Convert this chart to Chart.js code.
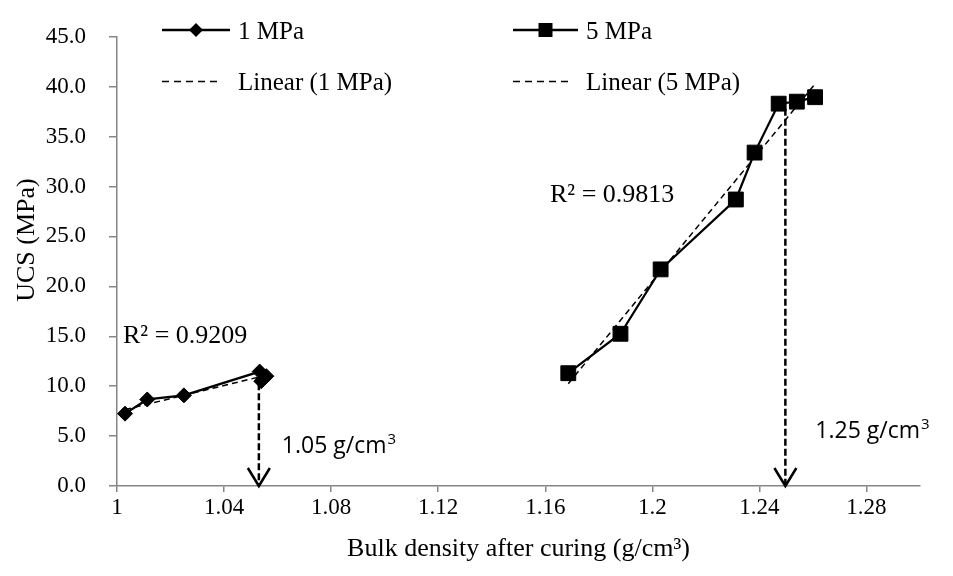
<!DOCTYPE html>
<html>
<head>
<meta charset="utf-8">
<script src="https://cdn.jsdelivr.net/npm/chart.js@4/dist/chart.umd.min.js"></script>
<style>
  html, body { margin: 0; padding: 0; background: #fff; }
</style>
</head>
<body>
<canvas id="ucs-chart" width="953" height="576"></canvas>
<script>
// 1 MPa series
const density1 = [1.003, 1.0113, 1.025, 1.0533, 1.0558, 1.0539];
const ucs1 = [7.25, 8.67, 9.08, 11.46, 11.0, 10.5];
// 5 MPa series
const density5 = [1.1686, 1.1881, 1.2031, 1.2312, 1.2382, 1.2472, 1.254, 1.2608];
const ucs5 = [11.3, 15.25, 21.7, 28.7, 33.4, 38.3, 38.5, 38.95];
// linear trendlines (end points)
const trend1X = [1.003, 1.0558];
const trend1Y = [7.65, 11.1];
const trend5X = [1.1686, 1.2608];
const trend5Y = [10.25, 40.28];
const r2Labels = ["R\u00b2 = 0.9209", "R\u00b2 = 0.9813"];
// arrows marking the densities
const arrowX = [1.053, 1.2497];
const arrowTop = [10.3, 37.8];
const arrowLabels = ["1.05 g/cm", "1.25 g/cm"];

const serif = "'Liberation Serif', 'Times New Roman', serif";
const sans = "'Open Sans', 'Liberation Sans', sans-serif";

const toPts = (xs, ys) => xs.map((x, i) => ({ x: x, y: ys[i] }));

const arrowSet = (i) => ({
    label: "arrow" + i,
    data: [{ x: arrowX[i], y: arrowTop[i] }, { x: arrowX[i], y: 0 }],
    showLine: true,
    borderColor: "#000",
    borderWidth: 2.5,
    borderDash: [7, 3],
    pointRadius: 0,
    clip: false,
});

const extras = {
    id: "extras",
    afterDatasetsDraw(chart) {
        const ctx = chart.ctx;
        const xs = chart.scales.x;
        const ys = chart.scales.y;
        ctx.save();

        // arrow heads
        ctx.strokeStyle = "#000";
        ctx.lineWidth = 2.5;
        ctx.setLineDash([]);
        arrowX.forEach((ax) => {
            const px = xs.getPixelForValue(ax);
            const py = ys.getPixelForValue(0);
            ctx.beginPath();
            ctx.moveTo(px - 11, py - 18);
            ctx.lineTo(px, py);
            ctx.lineTo(px + 11, py - 18);
            ctx.stroke();
        });

        // density labels with superscript 3
        ctx.fillStyle = "#000";
        ctx.textBaseline = "alphabetic";
        ctx.textAlign = "left";
        const offs = [[23, 453], [30, 438]];
        arrowLabels.forEach((t, i) => {
            const px = xs.getPixelForValue(arrowX[i]) + offs[i][0];
            ctx.font = "23px " + sans;
            ctx.fillText(t, px, offs[i][1]);
            const w = ctx.measureText(t).width;
            ctx.font = "15px " + sans;
            ctx.fillText("3", px + w + 1, offs[i][1] - 9);
        });

        // R² labels
        ctx.font = "26px " + serif;
        ctx.fillText(r2Labels[0], 123, 343);
        ctx.fillText(r2Labels[1], 550, 202);

        // y axis title
        ctx.save();
        ctx.translate(27, 240);
        ctx.rotate(-Math.PI / 2);
        ctx.textAlign = "center";
        ctx.textBaseline = "middle";
        ctx.font = "26px " + serif;
        ctx.fillText("UCS (MPa)", 0, 0);
        ctx.restore();

        // legend
        ctx.font = "25px " + serif;
        const rows = [38.5, 90];
        const cols = [[162, 230, 238], [513, 578, 586]];
        const ds = chart.data.datasets;
        [0, 1].forEach((c) => {
            const [x0, x1, tx] = cols[c];
            const ly = rows[0] - 8.5;
            ctx.lineWidth = 2.5;
            ctx.setLineDash([]);
            ctx.beginPath();
            ctx.moveTo(x0, ly);
            ctx.lineTo(x1, ly);
            ctx.stroke();
            const mx = (x0 + x1) / 2;
            ctx.beginPath();
            if (c === 0) {
                ctx.moveTo(mx - 7, ly);
                ctx.lineTo(mx, ly - 7);
                ctx.lineTo(mx + 7, ly);
                ctx.lineTo(mx, ly + 7);
            } else {
                ctx.rect(mx - 7, ly - 7, 14, 14);
            }
            ctx.closePath();
            ctx.fill();
            ctx.fillText(ds[c].label, tx, rows[0]);

            const ly2 = rows[1] - 8.5;
            ctx.lineWidth = 1.5;
            ctx.setLineDash([7, 5]);
            ctx.beginPath();
            ctx.moveTo(x0, ly2);
            ctx.lineTo(x1 - 8, ly2);
            ctx.stroke();
            ctx.setLineDash([]);
            ctx.fillText(ds[c + 2].label, tx, rows[1]);
        });
        ctx.restore();
    },
};

const canvas = document.querySelector("#ucs-chart");
const ucsChart = new Chart(canvas, {
    type: "scatter",
    data: {
        datasets: [
            {
                label: "1 MPa",
                data: toPts(density1, ucs1),
                showLine: true,
                borderColor: "#000",
                backgroundColor: "#000",
                borderWidth: 2.25,
                pointStyle: "rectRot",
                pointRadius: 7.5,
                pointBorderWidth: 1,
            },
            {
                label: "5 MPa",
                data: toPts(density5, ucs5),
                showLine: true,
                borderColor: "#000",
                backgroundColor: "#000",
                borderWidth: 2.25,
                pointStyle: "rect",
                pointRadius: 10.5,
                pointBorderWidth: 1,
            },
            {
                label: "Linear (1 MPa)",
                data: toPts(trend1X, trend1Y),
                showLine: true,
                borderColor: "#000",
                borderWidth: 1.5,
                borderDash: [6, 4],
                pointRadius: 0,
            },
            {
                label: "Linear (5 MPa)",
                data: toPts(trend5X, trend5Y),
                showLine: true,
                borderColor: "#000",
                borderWidth: 1.5,
                borderDash: [6, 4],
                pointRadius: 0,
            },
            arrowSet(0),
            arrowSet(1),
        ],
    },
    options: {
        responsive: false,
        animation: false,
        layout: { padding: { top: 19, right: 33, left: 0, bottom: 0 } },
        plugins: {
            legend: { display: false },
            tooltip: { enabled: false },
        },
        scales: {
            x: {
                type: "linear",
                min: 1,
                max: 1.3,
                afterFit: (s) => { s.height = 90; },
                ticks: {
                    stepSize: 0.04,
                    includeBounds: false,
                    color: "#000",
                    padding: 2,
                    font: { family: serif, size: 23 },
                    callback: (v) => String(Number(v.toFixed(2))),
                },
                grid: { drawOnChartArea: false, drawTicks: true, tickLength: 6, color: "#868686", lineWidth: 1.5 },
                border: { color: "#868686", width: 1.5 },
                title: {
                    display: true,
                    text: "Bulk density after curing (g/cm\u00b3)",
                    color: "#000",
                    font: { family: serif, size: 26 },
                    padding: { top: 0, bottom: 11 },
                },
            },
            y: {
                min: 0,
                max: 45,
                afterFit: (s) => { s.width = 117; },
                ticks: {
                    stepSize: 5,
                    color: "#000",
                    padding: 23,
                    font: { family: serif, size: 23 },
                    callback: (v) => v.toFixed(1),
                },
                grid: { drawOnChartArea: false, drawTicks: true, tickLength: 8, color: "#868686", lineWidth: 1.5 },
                border: { color: "#868686", width: 1.5 },
                title: { display: false },
            },
        },
    },
    plugins: [extras],
});
</script>
</body>
</html>
